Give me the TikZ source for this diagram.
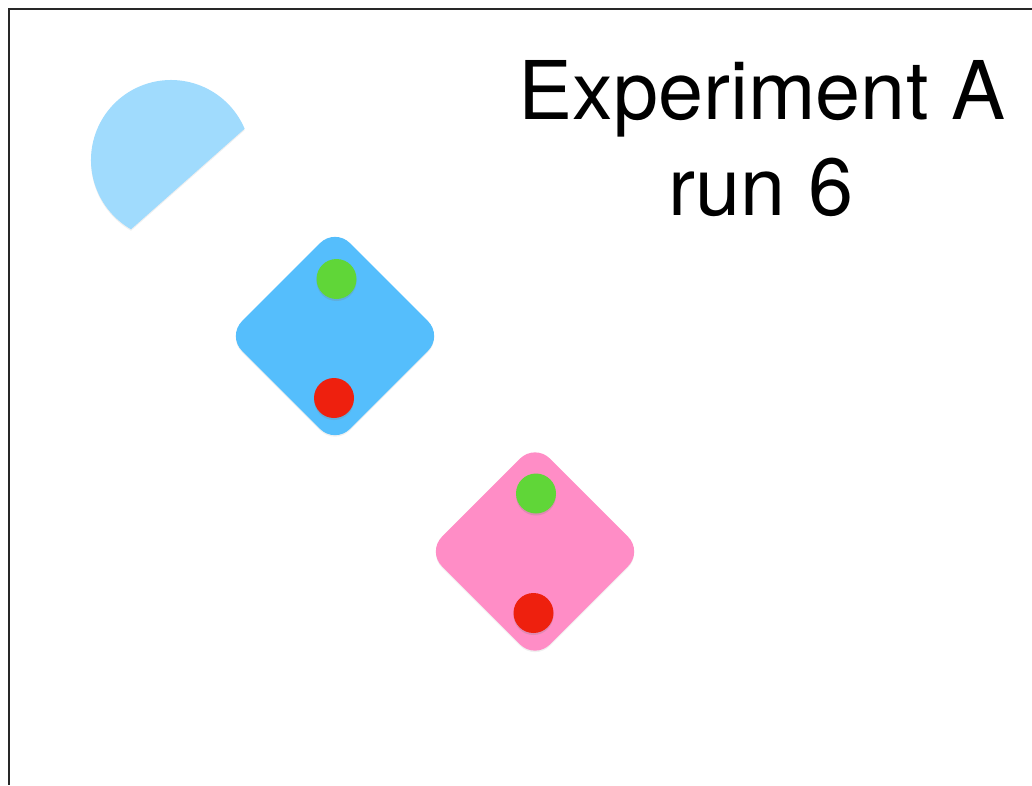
\documentclass[tikz,border=0pt]{standalone}
\usepackage{fontspec}
\setmainfont{TeX Gyre Heros}
\usetikzlibrary{shadows}
\definecolor{paleblue}{RGB}{160,219,253}
\definecolor{skyblue}{RGB}{85,190,252}
\definecolor{pinkish}{RGB}{255,141,198}
\definecolor{dotgreen}{RGB}{96,214,56}
\definecolor{dotred}{RGB}{238,32,14}
\definecolor{frame}{RGB}{40,40,40}
\tikzset{
  softshadow/.style={drop shadow={opacity=0.12,shadow xshift=0pt,shadow yshift=-1.5pt}},
  tile/.style={draw=none,rectangle,rotate=45,minimum width=152.5pt,minimum height=152.5pt,
    rounded corners=21pt,inner sep=0pt,softshadow},
  dot/.style={circle,draw=none,minimum size=40pt,inner sep=0pt,
    drop shadow={opacity=0.25,shadow xshift=0pt,shadow yshift=-2pt}},
  title/.style={font=\fontsize{81}{96}\selectfont,anchor=base,inner sep=0pt},
  frameline/.style={draw=frame,line width=1.2pt}
}
\begin{document}
\begin{tikzpicture}[x=1pt,y=1pt]
\useasboundingbox (0,0) rectangle (1032,-785);
% frame
\coordinate (ftr) at (1032,-9);
\coordinate (ftl) at (9,-9);
\coordinate (fbl) at (9,-785);
\draw[frameline] (ftr) -- (ftl) -- (fbl);
% partial disc
\coordinate (dc) at (171,-160);
\fill[paleblue,softshadow] (dc) ++(23:80) arc[start angle=23,end angle=240,radius=80] -- cycle;
% blue tile
\node[tile,fill=skyblue] (tileA) at (335,-336) {};
\node[dot,fill=dotgreen] (gA) at (336.5,-279) {};
\node[dot,fill=dotred] (rA) at (334,-398) {};
% pink tile
\node[tile,fill=pinkish] (tileB) at (535,-551.5) {};
\node[dot,fill=dotgreen] (gB) at (536,-493.5) {};
\node[dot,fill=dotred] (rB) at (533.5,-613) {};
% title
\node[title] (t1) at (762,-119) {Experiment A};
\node[title] (t2) at (761,-215) {run 6};
\end{tikzpicture}
\end{document}
